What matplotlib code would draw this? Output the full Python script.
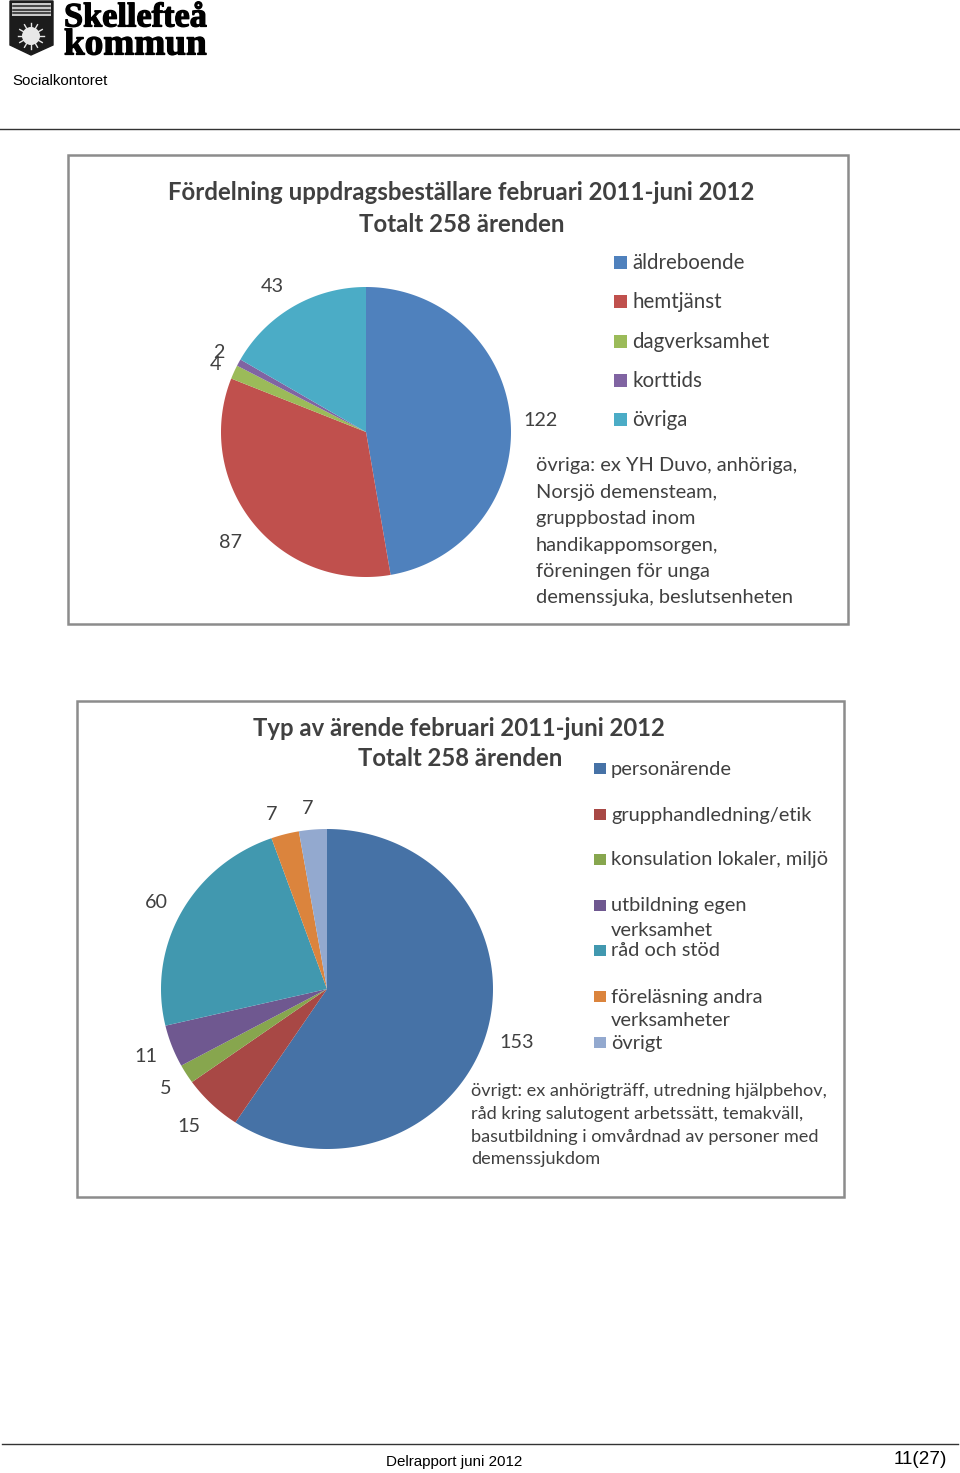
import matplotlib
matplotlib.use('Agg')
import matplotlib.pyplot as plt
from matplotlib.patches import Rectangle, Circle, Polygon
import matplotlib.patheffects as pe
import numpy as np

W, H = 960, 1473
title1 = ["Fördelning uppdragsbeställare februari 2011-juni 2012", "Totalt 258 ärenden"]
cats1 = ["äldreboende", "hemtjänst", "dagverksamhet", "korttids", "övriga"]
vals1 = [122, 87, 4, 2, 43]
cols1 = ["#4F81BD", "#C0504D", "#9BBB59", "#8064A2", "#4BACC6"]
note1 = ["övriga: ex YH Duvo, anhöriga,", "Norsjö demensteam,", "gruppbostad inom", "handikappomsorgen,", "föreningen för unga", "demenssjuka, beslutsenheten"]
title2 = ["Typ av ärende februari 2011-juni 2012", "Totalt 258 ärenden"]
cats2 = ["personärende", "grupphandledning/etik", "konsulation lokaler, miljö", "utbildning egen\nverksamhet", "råd och stöd", "föreläsning andra\nverksamheter", "övrigt"]
vals2 = [153, 15, 5, 11, 60, 7, 7]
cols2 = ["#4672A6", "#A84845", "#87A64E", "#6F5890", "#4198AF", "#DB843D", "#93A9CF"]
note2 = ["övrigt: ex anhörigträff, utredning hjälpbehov,", "råd kring salutogent arbetssätt, temakväll,", "basutbildning i omvårdnad av personer med", "demenssjukdom"]

plt.rcParams['font.family'] = ['Lato', 'DejaVu Sans']
fig = plt.figure(figsize=(W/100, H/100), dpi=100)
ax = fig.add_axes([0, 0, 1, 1])
ax.set_xlim(0, W); ax.set_ylim(H, 0); ax.axis('off')
TC = '#404040'

# header / footer
A = 'Liberation Sans'
heavy = [pe.withStroke(linewidth=0.9, foreground='k')]
ax.text(64, 18, "Skellefteå", family='Liberation Serif', weight='bold', fontsize=24.7, va='center', color='k', path_effects=heavy)
ax.text(64, 45, "kommun", family='Liberation Serif', weight='bold', fontsize=26.8, va='center', color='k', path_effects=heavy)
ax.add_patch(Polygon([(10, 1), (53, 1), (53, 45), (31, 55), (10, 45)], closed=True, color='#1c1c1c'))
ax.add_patch(Rectangle((12, 3), 39, 13, fc='#c8c8c8', ec='none'))
for yy in (6, 9.5, 13):
    ax.plot([13, 50], [yy, yy], color='#222222', lw=1.1)
ax.add_patch(Circle((31, 36), 9, fc='#e8e8e8', ec='none'))
for ang in np.arange(0, 360, 30):
    r = np.deg2rad(ang)
    ax.plot([31 + 8*np.cos(r), 31 + 13*np.cos(r)], [36 + 8*np.sin(r), 36 + 13*np.sin(r)], color='#e8e8e8', lw=1)
ax.text(12.5, 81, "Socialkontoret", family=A, fontsize=10.8, va='center', color='k')
ax.plot([0, 960], [129, 129], color='#333333', lw=1)
ax.plot([2, 958], [1444, 1444], color='#333333', lw=1)
ax.text(386, 1462, "Delrapport juni 2012", family=A, fontsize=10.9, va='center', color='k')
ax.text(947, 1460, "11(27)", family=A, fontsize=13.6, va='center', ha='right', color='k')

def pie(cx, cy, rx, ry, vals, cols):
    a = 0.0
    tot = sum(vals)
    for v, c in zip(vals, cols):
        t = np.linspace(a, a + v/tot*2*np.pi, 200)
        xs = np.r_[cx, cx + rx*np.sin(t)]
        ys = np.r_[cy, cy - ry*np.cos(t)]
        ax.add_patch(Polygon(np.c_[xs, ys], closed=True, fc=c, ec='none'))
        a += v/tot*2*np.pi

# chart 1
ax.add_patch(Rectangle((68, 155), 780, 469, fc='white', ec='#8C8C8C', lw=1.8))
ax.text(461, 192, title1[0], ha='center', va='center', weight='bold', fontsize=17.3, color=TC)
ax.text(462, 224, title1[1], ha='center', va='center', weight='bold', fontsize=17.3, color=TC)
pie(366, 432, 145, 145, vals1, cols1)
for (x, y), v in zip([(540, 420), (231, 542), (215, 365), (219, 352), (272, 287)], vals1):
    ax.text(x, y, str(v), ha='center', va='center', fontsize=14.2, color=TC)
for y, c, l in zip([262, 301, 341, 380, 419], cols1, cats1):
    ax.add_patch(Rectangle((614, y-6.5), 13, 13, fc=c, ec='none'))
    ax.text(632, y + 1, l, va='center', fontsize=14.8, color=TC)
for i, l in enumerate(note1):
    ax.text(536, 466 + i*26.4, l, va='center', fontsize=14.4, color=TC)

# chart 2
ax.add_patch(Rectangle((77, 701), 767, 496, fc='white', ec='#8C8C8C', lw=1.8))
ax.text(459, 728, title2[0], ha='center', va='center', weight='bold', fontsize=17.2, color=TC)
ax.text(460, 758, title2[1], ha='center', va='center', weight='bold', fontsize=17.2, color=TC)
pie(327, 989, 166, 160, vals2, cols2)
for (x, y), v in zip([(517, 1043), (189, 1126), (166, 1088), (146, 1056), (156, 903), (272, 814), (308, 809)], vals2):
    ax.text(x, y, str(v), ha='center', va='center', fontsize=14.2, color=TC)
for y, c, l in zip([768, 814, 859, 905, 950, 996, 1042], cols2, cats2):
    ax.add_patch(Rectangle((594, y-5.5), 12, 11, fc=c, ec='none'))
    for j, s in enumerate(l.split('\n')):
        ax.text(611, y + 1 + j*24, s, va='center', fontsize=14.4, color=TC)
for i, l in enumerate(note2):
    ax.text(471, 1091 + i*22.8, l, va='center', fontsize=13.1, color=TC)

fig.savefig('out.png', dpi=100)
